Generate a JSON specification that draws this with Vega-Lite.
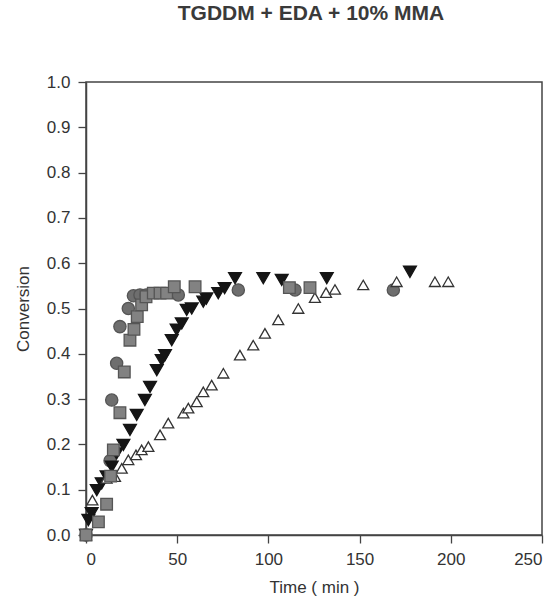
{
  "$schema": "https://vega.github.io/schema/vega-lite/v6.json",
  "autosize": "none",
  "width": 456,
  "height": 453,
  "padding": {"left": 86, "top": 82, "right": 16, "bottom": 69},
  "background": "white",
  "title": {"text": "TGDDM + EDA + 10% MMA", "font": "Liberation Sans", "fontSize": 21, "fontWeight": "bold", "color": "#3a3a3a", "offset": 49, "anchor": "middle", "dx": -3},
  "config": {
    "view": {"stroke": "#444", "strokeWidth": 1.5},
    "axis": {"grid": false, "domainColor": "#444", "domainWidth": 1.5, "tickColor": "#444", "tickWidth": 1.3, "tickSize": 8, "labelFont": "Liberation Sans", "labelFontSize": 17, "labelColor": "#333", "titleFont": "Liberation Sans", "titleFontSize": 17, "titleFontWeight": "normal", "titleColor": "#333"}
  },
  "data": {"values": [
    {"series": "open", "t": 0, "c": 0},
    {"series": "open", "t": 3.5, "c": 0.077},
    {"series": "open", "t": 11.3, "c": 0.125},
    {"series": "open", "t": 15.9, "c": 0.129},
    {"series": "open", "t": 19.6, "c": 0.147},
    {"series": "open", "t": 23.2, "c": 0.166},
    {"series": "open", "t": 27.4, "c": 0.177},
    {"series": "open", "t": 30.5, "c": 0.188},
    {"series": "open", "t": 34.2, "c": 0.195},
    {"series": "open", "t": 40.6, "c": 0.221},
    {"series": "open", "t": 45.1, "c": 0.247},
    {"series": "open", "t": 53.4, "c": 0.269},
    {"series": "open", "t": 56.1, "c": 0.28},
    {"series": "open", "t": 60.7, "c": 0.294},
    {"series": "open", "t": 64.3, "c": 0.316},
    {"series": "open", "t": 68.9, "c": 0.331},
    {"series": "open", "t": 75.3, "c": 0.357},
    {"series": "open", "t": 84.4, "c": 0.397},
    {"series": "open", "t": 91.7, "c": 0.419},
    {"series": "open", "t": 98.1, "c": 0.445},
    {"series": "open", "t": 105.4, "c": 0.475},
    {"series": "open", "t": 116.4, "c": 0.5},
    {"series": "open", "t": 125.5, "c": 0.524},
    {"series": "open", "t": 131.6, "c": 0.535},
    {"series": "open", "t": 136.5, "c": 0.542},
    {"series": "open", "t": 152, "c": 0.552},
    {"series": "open", "t": 170.3, "c": 0.559},
    {"series": "open", "t": 191.3, "c": 0.559},
    {"series": "open", "t": 198.6, "c": 0.559},
    {"series": "square", "t": 0, "c": 0},
    {"series": "square", "t": 6.8, "c": 0.029},
    {"series": "square", "t": 11.3, "c": 0.068},
    {"series": "square", "t": 13.5, "c": 0.13},
    {"series": "square", "t": 15, "c": 0.188},
    {"series": "square", "t": 18.6, "c": 0.27},
    {"series": "square", "t": 21, "c": 0.36},
    {"series": "square", "t": 24.1, "c": 0.43},
    {"series": "square", "t": 26.3, "c": 0.454},
    {"series": "square", "t": 28.1, "c": 0.482},
    {"series": "square", "t": 30.5, "c": 0.508},
    {"series": "square", "t": 32.9, "c": 0.526},
    {"series": "square", "t": 36.9, "c": 0.534},
    {"series": "square", "t": 40.6, "c": 0.534},
    {"series": "square", "t": 44.2, "c": 0.534},
    {"series": "square", "t": 48.4, "c": 0.548},
    {"series": "square", "t": 59.8, "c": 0.548},
    {"series": "square", "t": 111.5, "c": 0.546},
    {"series": "square", "t": 122.8, "c": 0.546},
    {"series": "circle", "t": 0, "c": 0},
    {"series": "circle", "t": 13.2, "c": 0.164},
    {"series": "circle", "t": 14.1, "c": 0.298},
    {"series": "circle", "t": 16.8, "c": 0.379},
    {"series": "circle", "t": 18.6, "c": 0.46},
    {"series": "circle", "t": 23.2, "c": 0.5},
    {"series": "circle", "t": 26, "c": 0.528},
    {"series": "circle", "t": 29.6, "c": 0.53},
    {"series": "circle", "t": 33, "c": 0.53},
    {"series": "circle", "t": 50.6, "c": 0.53},
    {"series": "circle", "t": 83.5, "c": 0.541},
    {"series": "circle", "t": 114.6, "c": 0.541},
    {"series": "circle", "t": 168.5, "c": 0.541},
    {"series": "down", "t": 0, "c": 0},
    {"series": "down", "t": 1.3, "c": 0.033},
    {"series": "down", "t": 3.1, "c": 0.048},
    {"series": "down", "t": 5.9, "c": 0.099},
    {"series": "down", "t": 8.6, "c": 0.114},
    {"series": "down", "t": 11.3, "c": 0.129},
    {"series": "down", "t": 14.1, "c": 0.151},
    {"series": "down", "t": 16.8, "c": 0.18},
    {"series": "down", "t": 20.5, "c": 0.199},
    {"series": "down", "t": 24.1, "c": 0.232},
    {"series": "down", "t": 27.8, "c": 0.265},
    {"series": "down", "t": 32.3, "c": 0.298},
    {"series": "down", "t": 35.1, "c": 0.327},
    {"series": "down", "t": 38.8, "c": 0.364},
    {"series": "down", "t": 41.5, "c": 0.386},
    {"series": "down", "t": 43.3, "c": 0.397},
    {"series": "down", "t": 47, "c": 0.43},
    {"series": "down", "t": 49.7, "c": 0.453},
    {"series": "down", "t": 52.5, "c": 0.467},
    {"series": "down", "t": 55.2, "c": 0.497},
    {"series": "down", "t": 58, "c": 0.5},
    {"series": "down", "t": 64.3, "c": 0.515},
    {"series": "down", "t": 66, "c": 0.522},
    {"series": "down", "t": 72.5, "c": 0.534},
    {"series": "down", "t": 76, "c": 0.545},
    {"series": "down", "t": 81.7, "c": 0.567},
    {"series": "down", "t": 97.2, "c": 0.567},
    {"series": "down", "t": 107.3, "c": 0.563},
    {"series": "down", "t": 132, "c": 0.567},
    {"series": "down", "t": 177.6, "c": 0.581}
  ]},
  "mark": {"type": "point", "filled": true, "strokeWidth": 1.3, "opacity": 1},
  "encoding": {
    "x": {"field": "t", "type": "quantitative", "scale": {"domain": [0, 250], "nice": false}, "axis": {"values": [0, 50, 100, 150, 200, 250], "title": "Time ( min )", "labelPadding": 8, "titlePadding": 12}},
    "y": {"field": "c", "type": "quantitative", "scale": {"domain": [0, 1], "nice": false}, "axis": {"values": [0, 0.1, 0.2, 0.3, 0.4, 0.5, 0.6, 0.7, 0.8, 0.9, 1.0], "format": ".1f", "title": "Conversion", "labelPadding": 8, "titlePadding": 14}},
    "shape": {"field": "series", "type": "nominal", "scale": {"domain": ["open", "square", "circle", "down"], "range": ["triangle-up", "square", "circle", "triangle-down"]}, "legend": null},
    "fill": {"field": "series", "type": "nominal", "scale": {"domain": ["open", "square", "circle", "down"], "range": ["#ffffff", "#828282", "#6e6e6e", "#151515"]}, "legend": null},
    "stroke": {"field": "series", "type": "nominal", "scale": {"domain": ["open", "square", "circle", "down"], "range": ["#333333", "#555555", "#555555", "#151515"]}, "legend": null},
    "size": {"field": "series", "type": "nominal", "scale": {"domain": ["open", "square", "circle", "down"], "range": [120, 165, 135, 140]}, "legend": null},
    "order": {"field": "series", "type": "nominal"}
  }
}
